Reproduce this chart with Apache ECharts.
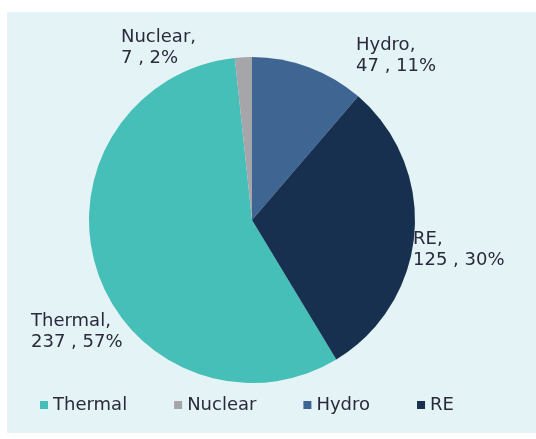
<!DOCTYPE html>
<html>
<head>
<meta charset="utf-8">
<script src="https://cdn.jsdelivr.net/npm/echarts@6/dist/echarts.min.js"></script>
<style>
html,body{margin:0;padding:0;background:#fff;}
#c{width:536px;height:439px;}
</style>
</head>
<body>
<div id="c"></div>
<script>
var categories = ['Thermal', 'Nuclear', 'Hydro', 'RE'];
var values = [237, 7, 47, 125];
var colors = ['#45bfb7', '#a6a5aa', '#3f6592', '#17304f'];

var labelPos = {
  Thermal: [31, 311],
  Nuclear: [121, 27],
  Hydro: [356, 35],
  RE: [413, 229]
};

var total = values.reduce(function(a, b){ return a + b; }, 0);
var startAngle = 90 + (values[0] + values[1]) / total * 360;

var chart = echarts.init(document.getElementById('c'), null, {renderer: 'canvas'});
chart.setOption({
  animation: false,
  graphic: [{
    type: 'rect',
    shape: {x: 7, y: 12, width: 529, height: 421},
    style: {fill: '#e4f3f5'},
    z: -10
  }],
  legend: {
    data: categories,
    bottom: 20,
    left: 35,
    icon: 'rect',
    itemWidth: 8,
    itemHeight: 8,
    itemGap: 47,
    textStyle: {fontFamily: 'DejaVu Sans', fontSize: 18, color: '#2a2a3c'}
  },
  series: [{
    type: 'pie',
    center: [252, 220],
    radius: [0, 163],
    startAngle: startAngle,
    clockwise: true,
    data: categories.map(function(n, i){
      return {name: n, value: values[i], itemStyle: {color: colors[i]}};
    }),
    label: {
      show: true,
      position: 'outside',
      overflow: 'none',
      fontFamily: 'DejaVu Sans',
      fontSize: 18,
      lineHeight: 21,
      color: '#2a2a3c',
      formatter: function(p){
        return p.name + ',\n' + p.value + ' , ' + Math.round(p.percent) + '%';
      }
    },
    labelLine: {show: false},
    labelLayout: function(p){
      var pos = labelPos[categories[p.dataIndex]];
      return {x: pos[0], y: pos[1], align: 'left', verticalAlign: 'top', hideOverlap: false};
    },
    itemStyle: {borderWidth: 0}
  }]
});
</script>
</body>
</html>
